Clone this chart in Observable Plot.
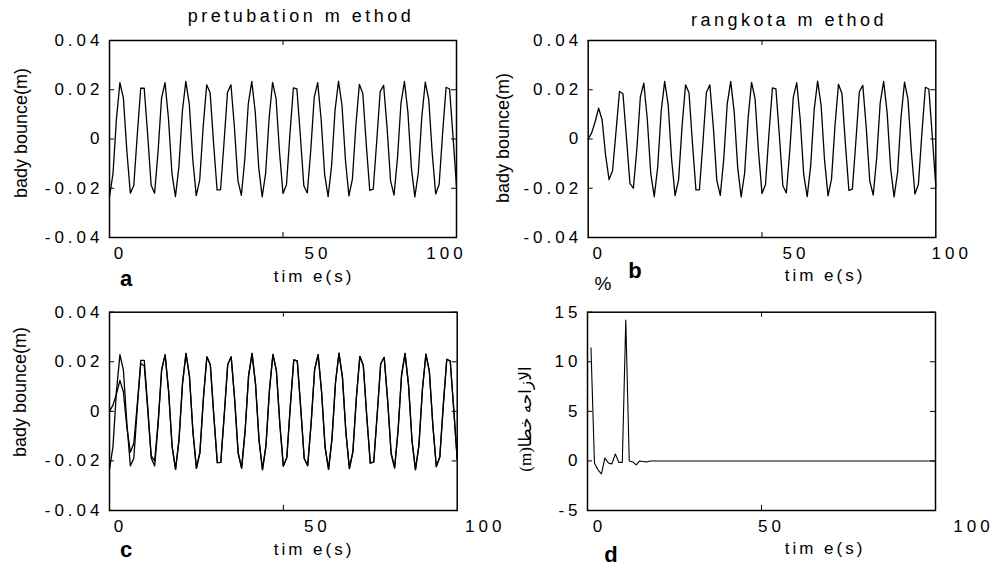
<!DOCTYPE html>
<html><head><meta charset="utf-8">
<script src="https://cdn.jsdelivr.net/npm/d3@7"></script>
<script src="https://cdn.jsdelivr.net/npm/@observablehq/plot@0.6"></script>
<style>
html,body{margin:0;padding:0;background:#fff;}
#chart{position:relative;width:994px;height:569px;overflow:hidden;font-family:"Liberation Sans",Arial,sans-serif;color:#000;background:#fff;}
#chart svg{position:absolute;}
.lbl{position:absolute;white-space:nowrap;line-height:1;}
g[aria-label="x-axis tick label"] text, g[aria-label="y-axis tick label"] text{letter-spacing:4px;}
</style></head><body><div id="chart"></div>
<script>
// ---- data ----
const time = [0,1,2,3,4,5,6,7,8,9,10,11,12,13,14,15,16,17,18,19,20,21,22,23,24,25,26,27,28,29,30,31,32,33,34,35,36,37,38,39,40,41,42,43,44,45,46,47,48,49,50,51,52,53,54,55,56,57,58,59,60,61,62,63,64,65,66,67,68,69,70,71,72,73,74,75,76,77,78,79,80,81,82,83,84,85,86,87,88,89,90,91,92,93,94,95,96,97,98,99,100];

const pretubation = [-0.0234,-0.0142,0.0081,0.0229,0.0166,-0.0049,-0.0220,-0.0189,0.0016,0.0206,
0.0206,0.0017,-0.0188,-0.0220,-0.0050,0.0166,0.0229,0.0082,-0.0141,-0.0234,
-0.0113,0.0113,0.0234,0.0141,-0.0083,-0.0230,-0.0166,0.0051,0.0220,0.0188,
-0.0018,-0.0207,-0.0206,-0.0015,0.0189,0.0220,0.0048,-0.0168,-0.0229,-0.0080,
0.0143,0.0234,0.0110,-0.0115,-0.0235,-0.0139,0.0085,0.0230,0.0164,-0.0053,
-0.0221,-0.0186,0.0020,0.0208,0.0204,0.0013,-0.0190,-0.0219,-0.0046,0.0169,
0.0229,0.0078,-0.0144,-0.0234,-0.0109,0.0117,0.0235,0.0137,-0.0087,-0.0231,
-0.0163,0.0055,0.0222,0.0185,-0.0022,-0.0209,-0.0204,-0.0011,0.0192,0.0218,
0.0044,-0.0170,-0.0228,-0.0076,0.0146,0.0234,0.0107,-0.0118,-0.0235,-0.0136,
0.0089,0.0231,0.0161,-0.0057,-0.0223,-0.0184,0.0024,0.0210,0.0203,0.0009,
-0.0193];

const rangkota = [0.0000,0.0025,0.0070,0.0125,0.0078,-0.0065,-0.0165,-0.0129,0.0030,0.0193,
0.0184,0.0005,-0.0180,-0.0200,-0.0040,0.0170,0.0227,0.0080,-0.0141,-0.0234,
-0.0113,0.0113,0.0234,0.0141,-0.0083,-0.0230,-0.0166,0.0051,0.0220,0.0188,
-0.0018,-0.0207,-0.0206,-0.0015,0.0189,0.0220,0.0048,-0.0168,-0.0229,-0.0080,
0.0143,0.0234,0.0110,-0.0115,-0.0235,-0.0139,0.0085,0.0230,0.0164,-0.0053,
-0.0221,-0.0186,0.0020,0.0208,0.0204,0.0013,-0.0190,-0.0219,-0.0046,0.0169,
0.0229,0.0078,-0.0144,-0.0234,-0.0109,0.0117,0.0235,0.0137,-0.0087,-0.0231,
-0.0163,0.0055,0.0222,0.0185,-0.0022,-0.0209,-0.0204,-0.0011,0.0192,0.0218,
0.0044,-0.0170,-0.0228,-0.0076,0.0146,0.0234,0.0107,-0.0118,-0.0235,-0.0136,
0.0089,0.0231,0.0161,-0.0057,-0.0223,-0.0184,0.0024,0.0210,0.0203,0.0009,
-0.0193];

const errTime = time.slice(1);
const errValues = [11.4,-0.2,-0.9,-1.3,0.3,-0.2,-0.3,0.7,-0.15,-0.15,
14.2,0,-0.1,-0.4,0,-0.05,-0.1,0,0,0,
0,0,0,0,0,0,0,0,0,0,
0,0,0,0,0,0,0,0,0,0,
0,0,0,0,0,0,0,0,0,0,
0,0,0,0,0,0,0,0,0,0,
0,0,0,0,0,0,0,0,0,0,
0,0,0,0,0,0,0,0,0,0,
0,0,0,0,0,0,0,0,0,0,
0,0,0,0,0,0,0,0,0,0];

const yTicksBounce = [-0.04,-0.02,0,0.02,0.04];
const yTickLabelsBounce = ["-0.04","-0.02","0","0.02","0.04"];
const yTicksErr = [-5,0,5,10,15];
const yTickLabelsErr = ["-5","0","5","10","15"];
const xTicks = [0,50,100];
const xTickLabels = ["0","50","100"];
const titles = ["pretubation m ethod","rangkota m ethod"];
const panelLetters = ["a","b","c","d"];
const xLabel = "tim e(s)";
const yLabel = "bady bounce(m)";
const yLabelErr = "(m)الازاحه خطا";

// ---- layout ----
const chart = document.getElementById("chart");
const FONT = '"Liberation Sans", Arial, sans-serif';
const lineStyle = {stroke: "#000", strokeWidth: 1.3};

function panel(cfg, lineMarks, yDomain, yTicks, yLabels) {
  const innerW = cfg.width - cfg.ml - cfg.mr;
  const innerH = cfg.height - cfg.mt - cfg.mb;
  const svg = Plot.plot({
    width: cfg.width, height: cfg.height,
    marginLeft: cfg.ml, marginRight: cfg.mr, marginTop: cfg.mt, marginBottom: cfg.mb,
    style: {background: "transparent", fontFamily: FONT, fontSize: "17px", overflow: "visible", color: "#000"},
    x: {domain: [0, 100]},
    y: {domain: yDomain},
    marks: [
      ...lineMarks,
      Plot.frame({stroke: "#000", strokeWidth: 1.5}),
      Plot.tickY(yTicks, {y: d => d, insetRight: innerW - 5, stroke: "#000"}),
      Plot.tickY(yTicks, {y: d => d, insetLeft: innerW - 5, stroke: "#000"}),
      Plot.tickX([50], {x: d => d, insetTop: innerH - 5, stroke: "#000"}),
      Plot.tickX([50], {x: d => d, insetBottom: innerH - 5, stroke: "#000"}),
      Plot.axisY(yTicks, {tickSize: 0, tickPadding: 6, fontSize: 17, label: null,
        tickFormat: d => yLabels[yTicks.indexOf(d)]}),
      ...xTicks.map((t, i) => Plot.axisX([t], {tickSize: 0, tickPadding: 9, dx: cfg.xdx[i], fontSize: 17, label: null,
        tickFormat: () => xTickLabels[i]}))
    ]
  });
  svg.style.left = cfg.left + "px";
  svg.style.top = cfg.top + "px";
  chart.appendChild(svg);
}

function label(text, x, y, css = {}, rotate = false) {
  const el = document.createElement("div");
  el.className = "lbl";
  el.textContent = text;
  el.style.left = x + "px";
  el.style.top = y + "px";
  el.style.transform = "translate(-50%,-50%)" + (rotate ? " rotate(-90deg)" : "");
  Object.assign(el.style, css);
  chart.appendChild(el);
}

panel({left: 0, top: 0, width: 478, height: 280, ml: 109, mr: 22, mt: 40, mb: 43, xdx: [11, 35, -10]},
  [Plot.line(time, {x: time, y: pretubation, ...lineStyle})],
  [-0.04, 0.04], yTicksBounce, yTickLabelsBounce);

panel({left: 478, top: 0, width: 516, height: 280, ml: 109.7, mr: 58.7, mt: 40, mb: 43, xdx: [11, 34, 16]},
  [Plot.line(time, {x: time, y: rangkota, ...lineStyle})],
  [-0.04, 0.04], yTicksBounce, yTickLabelsBounce);

panel({left: 0, top: 280, width: 478, height: 289, ml: 109, mr: 21.3, mt: 31.7, mb: 59, xdx: [11, 34, 28]},
  [Plot.line(time, {x: time, y: pretubation, ...lineStyle}),
   Plot.line(time, {x: time, y: rangkota, ...lineStyle})],
  [-0.04, 0.04], yTicksBounce, yTickLabelsBounce);

panel({left: 478, top: 280, width: 516, height: 289, ml: 109, mr: 59, mt: 31.7, mb: 59, xdx: [12, 10, 38]},
  [Plot.line(errTime, {x: errTime, y: errValues, stroke: "#000", strokeWidth: 1.1})],
  [-5, 15], yTicksErr, yTickLabelsErr);

const spaced = {fontSize: "18px", letterSpacing: "3.5px"};
label(titles[0], 301, 16, spaced);
label(titles[1], 789, 20, spaced);
const xl = {fontSize: "17px", letterSpacing: "3px"};
label(xLabel, 314, 276, xl);
label(xLabel, 825, 275, xl);
label(xLabel, 314, 549, xl);
label(xLabel, 825, 548, xl);
const yl = {fontSize: "18px"};
label(yLabel, 21, 133, yl, true);
label(yLabel, 502.5, 138, yl, true);
label(yLabel, 19.5, 392, yl, true);
label(yLabelErr, 525, 419, {fontSize: "17px", fontFamily: '"Liberation Serif", "DejaVu Sans", serif'}, true);
const bold = {fontSize: "22px", fontWeight: "bold"};
label(panelLetters[0], 126, 278.5, bold);
label(panelLetters[1], 635, 270.7, bold);
label(panelLetters[2], 126, 550.4, bold);
label(panelLetters[3], 611, 554.5, bold);
label("%", 603, 283, {fontSize: "19px"});
</script></body></html>
